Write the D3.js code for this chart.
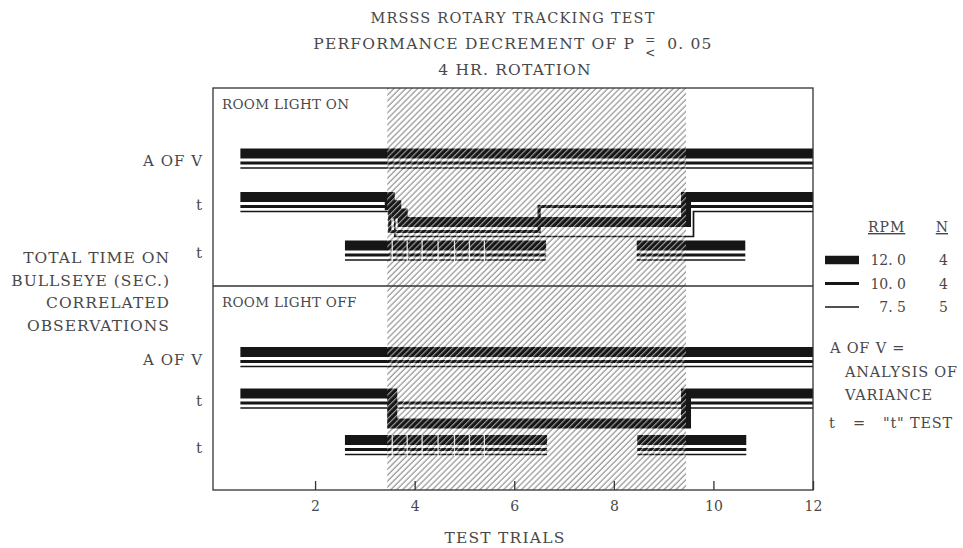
<!DOCTYPE html>
<html>
<head>
<meta charset="utf-8">
<script src="https://cdn.jsdelivr.net/npm/d3@7"></script>
<style>
  body { margin: 0; background: #fff; }
  svg text { font-family: "DejaVu Serif", serif; fill: #484848; }
</style>
</head>
<body>
<div id="chart"></div>
<script>
// x axis: test trials
const trialTicks = [2, 4, 6, 8, 10, 12]
const rotation = [3.45, 9.45] // the shaded 4 hr rotation, in trials
const rpmLabels = ['12. 0', '10. 0', '7. 5']
const groupN = ['4', '4', '5']
const rowLabels = ['A OF V', 't', 't']
const panelNames = ['ROOM LIGHT ON', 'ROOM LIGHT OFF']
const titleLines = ['MRSSS ROTARY TRACKING TEST', 'PERFORMANCE DECREMENT OF P', '4 HR. ROTATION']
const yTitle = ['TOTAL TIME ON', 'BULLSEYE (SEC.)', 'CORRELATED', 'OBSERVATIONS']
const notes = ['A OF V  =', 'ANALYSIS OF', 'VARIANCE']

// one line per rpm (12.0, 10.0, 7.5): [trial, level], level 0 = no decrement, 1 = decrement p <= 0.05
// (the in-between levels are the little stair on the 12.0 line)
const onAov = [[[0.5, 0], [12, 0]], [[0.5, 0], [12, 0]], [[0.5, 0], [12, 0]]]
const onT = [
  [[0.5, 0], [3.5, 0.33], [3.63, 0.66], [3.76, 1], [9.45, 0], [12, 0]],
  [[0.5, 0], [3.5, 1], [6.5, 0], [12, 0]],
  [[0.5, 0], [3.6, 1], [9.6, 0], [12, 0]]
]
const offAov = [[[0.5, 0], [12, 0]], [[0.5, 0], [12, 0]], [[0.5, 0], [12, 0]]]
const offT = [
  [[0.5, 0], [3.55, 1], [9.45, 0], [12, 0]],
  [[0.5, 0], [12, 0]],
  [[0.5, 0], [12, 0]]
]
// correlated observations t test: runs of trials, same for every rpm
const onCorr = [[2.6, 6.64], [8.46, 10.64]]
const offCorr = [[2.6, 6.66], [8.47, 10.66]]
const corrMarks = [3.55, 3.85, 4.15, 4.47, 4.8, 5.1, 5.4]

const width = 963
const height = 548
const frame = {left: 213, right: 813, top: 88, mid: 286, bottom: 490}
const ink = "#161616"
const rpmWidth = [10, 3.2, 1.7]
const rpmOffset = [0, 9.5, 14.5]
const titleCenter = 513

const panels = [
  {name: panelNames[0], top: frame.top, rows: [153.5, 197, 245.5], drop: 25, aov: onAov, t: onT, corr: onCorr},
  {name: panelNames[1], top: frame.mid, rows: [352, 393.5, 440], drop: 30, aov: offAov, t: offT, corr: offCorr}
]

const svg = d3.select('#chart').append('svg')
  .attr('width', width)
  .attr('height', height)

const x = d3.scaleLinear().domain([-0.05, 12]).range([frame.left, frame.right])

// hatch for the rotation period, plus a white one to lay over the lines
const defs = svg.append('defs')
defs.append('pattern')
  .attr('id', 'hatch')
  .attr('patternUnits', 'userSpaceOnUse')
  .attr('width', 4.2).attr('height', 4.2)
  .attr('patternTransform', 'rotate(45)')
  .append('line')
  .attr('x1', 1).attr('x2', 1).attr('y1', 0).attr('y2', 4.2)
  .attr('stroke', '#999').attr('stroke-width', 1.3)
defs.append('pattern')
  .attr('id', 'hatchWhite')
  .attr('patternUnits', 'userSpaceOnUse')
  .attr('width', 4.2).attr('height', 4.2)
  .attr('patternTransform', 'rotate(45)')
  .append('line')
  .attr('x1', 3.1).attr('x2', 3.1).attr('y1', 0).attr('y2', 4.2)
  .attr('stroke', '#fff').attr('stroke-width', 1.1)

svg.append('rect')
  .attr('x', x(rotation[0]))
  .attr('y', frame.top)
  .attr('width', x(rotation[1]) - x(rotation[0]))
  .attr('height', frame.bottom - frame.top)
  .attr('fill', 'url(#hatch)')

const stepLine = yScale => d3.line()
  .x(d => x(d[0]))
  .y(d => yScale(d[1]))
  .curve(d3.curveStepAfter)

panels.forEach(p => {
  const rowData = [p.aov, p.t, p.corr.map(run => [[run[0], 0], [run[1], 0]])]
  rowData.forEach((row, r) => {
    rpmLabels.forEach((rpm, k) => {
      const y = d3.scaleLinear().domain([0, 1]).range([p.rows[r] + rpmOffset[k], p.rows[r] + rpmOffset[k] + p.drop])
      const lines = r == 2 ? row : [row[k]]
      lines.forEach(pts => {
        svg.append('path')
          .datum(pts)
          .attr('fill', 'none')
          .attr('stroke', ink)
          .attr('stroke-width', rpmWidth[k])
          .attr('stroke-linejoin', 'miter')
          .attr('d', stepLine(y))
      })
    })
    // row label
    svg.append('text')
      .attr('x', 203)
      .attr('y', p.rows[r] + 12.5)
      .attr('text-anchor', 'end')
      .style('font-size', '15px')
      .style('letter-spacing', '1px')
      .text(rowLabels[r])
  })
  // small white marks across the first correlated run
  svg.append('g').selectAll('line')
    .data(corrMarks)
    .join('line')
    .attr('x1', d => x(d)).attr('x2', d => x(d))
    .attr('y1', p.rows[2] - 5).attr('y2', p.rows[2] + 16)
    .attr('stroke', '#fff')
    .attr('stroke-width', 1.3)
    .attr('opacity', 0.85)

  svg.append('text')
    .attr('x', 222)
    .attr('y', p.top + 21)
    .style('font-size', '13.5px')
    .style('letter-spacing', '0.3px')
    .text(p.name)
})

// white hatch over the lines inside the rotation period
svg.append('rect')
  .attr('x', x(rotation[0]))
  .attr('y', frame.top)
  .attr('width', x(rotation[1]) - x(rotation[0]))
  .attr('height', frame.bottom - frame.top)
  .attr('fill', 'url(#hatchWhite)')
  .attr('opacity', 0.6)

// frame and divider
svg.append('rect')
  .attr('x', frame.left).attr('y', frame.top)
  .attr('width', frame.right - frame.left).attr('height', frame.bottom - frame.top)
  .attr('fill', 'none').attr('stroke', '#333').attr('stroke-width', 1.3)
svg.append('line')
  .attr('x1', frame.left).attr('x2', frame.right)
  .attr('y1', frame.mid).attr('y2', frame.mid)
  .attr('stroke', '#333').attr('stroke-width', 1.3)

// x axis, ticks pointing up into the plot
const xAxis = svg.append('g')
  .attr('transform', 'translate(0,' + frame.bottom + ')')
  .call(d3.axisBottom(x).tickValues(trialTicks).tickSizeInner(-9).tickSizeOuter(0).tickPadding(11))
xAxis.select('.domain').remove()
xAxis.selectAll('line').attr('stroke', '#333').attr('stroke-width', 1.3)
xAxis.selectAll('text')
  .style('font-family', '"DejaVu Serif", serif')
  .style('font-size', '14px')
  .attr('fill', '#484848')

svg.append('text')
  .attr('x', 505).attr('y', 543)
  .attr('text-anchor', 'middle')
  .style('font-size', '15.5px')
  .style('letter-spacing', '1.2px')
  .text('TEST TRIALS')

// titles, centred over the plot
svg.append('text')
  .attr('x', titleCenter).attr('y', 23)
  .attr('text-anchor', 'middle')
  .style('font-size', '14.5px').style('letter-spacing', '1.2px')
  .text(titleLines[0])
// second line: text, the "= over <" sign, then the level
const t2 = svg.append('text')
  .attr('y', 49)
  .style('font-size', '15.5px').style('letter-spacing', '1.2px')
  .text(titleLines[1])
const t2b = svg.append('text')
  .attr('y', 49)
  .style('font-size', '15.5px').style('letter-spacing', '1.2px')
  .text('0. 05')
const w2 = t2.node().getComputedTextLength()
const w2b = t2b.node().getComputedTextLength()
const gap = 32
const start2 = titleCenter - (w2 + gap + w2b) / 2
t2.attr('x', start2)
t2b.attr('x', start2 + w2 + gap)
const symX = start2 + w2 + gap / 2 - 1
svg.append('text').attr('x', symX).attr('y', 44).attr('text-anchor', 'middle')
  .style('font-size', '12px').text('=')
svg.append('text').attr('x', symX).attr('y', 57).attr('text-anchor', 'middle')
  .style('font-size', '12px').text('<')
svg.append('text')
  .attr('x', titleCenter + 2).attr('y', 75)
  .attr('text-anchor', 'middle')
  .style('font-size', '15.5px').style('letter-spacing', '1.2px')
  .text(titleLines[2])

// y title on the left
svg.append('g').selectAll('text')
  .data(yTitle)
  .join('text')
  .attr('x', 170)
  .attr('y', (d, i) => 263 + i * 22.5)
  .attr('text-anchor', 'end')
  .style('font-size', '15.5px')
  .style('letter-spacing', '1px')
  .text(d => d)

// legend
const legend = svg.append('g')
legend.append('text').attr('x', 868).attr('y', 232).style('font-size', '14px').style('letter-spacing', '1px')
  .style('text-decoration', 'underline').text('RPM')
legend.append('text').attr('x', 948).attr('y', 232).attr('text-anchor', 'end').style('font-size', '14px')
  .style('text-decoration', 'underline').text('N')
rpmLabels.forEach((rpm, k) => {
  const ly = 260 + k * 23.5
  legend.append('line')
    .attr('x1', 825).attr('x2', 859).attr('y1', ly).attr('y2', ly)
    .attr('stroke', ink).attr('stroke-width', k == 0 ? 8.5 : rpmWidth[k])
  legend.append('text').attr('x', 906).attr('y', ly + 5).attr('text-anchor', 'end')
    .style('font-size', '14px').text(rpm)
  legend.append('text').attr('x', 948).attr('y', ly + 5).attr('text-anchor', 'end')
    .style('font-size', '14px').text(groupN[k])
})

// notes on the right
svg.append('text').attr('x', 830).attr('y', 353).style('font-size', '14.5px').style('letter-spacing', '0.8px').text(notes[0])
svg.append('text').attr('x', 845).attr('y', 377).style('font-size', '14.5px').style('letter-spacing', '0.8px').text(notes[1])
svg.append('text').attr('x', 845).attr('y', 400).style('font-size', '14.5px').style('letter-spacing', '0.8px').text(notes[2])
const tNote = svg.append('text').attr('y', 428).style('font-size', '14.5px').style('letter-spacing', '0.8px')
tNote.append('tspan').attr('x', 829).text('t')
tNote.append('tspan').attr('x', 853).text('=')
tNote.append('tspan').attr('x', 883).text('"t" TEST')
</script>
</body>
</html>
